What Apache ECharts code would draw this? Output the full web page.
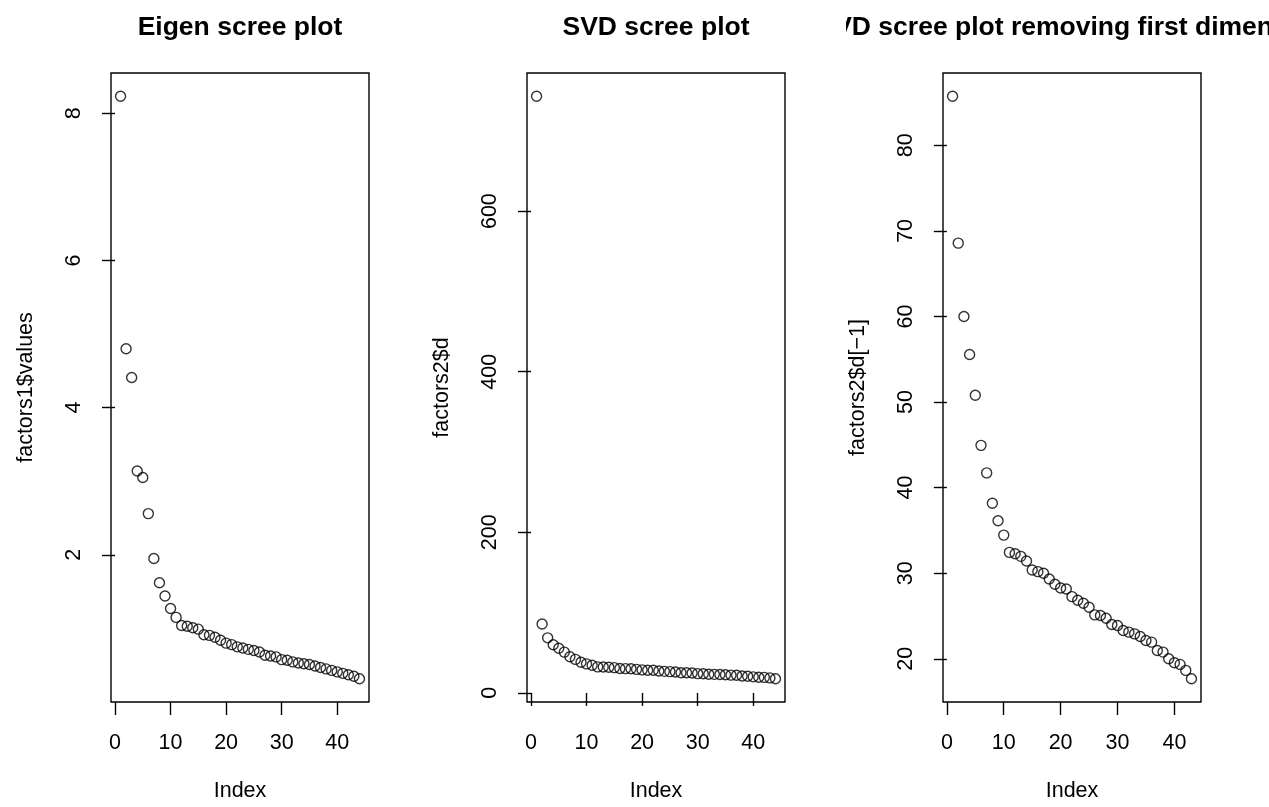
<!DOCTYPE html>
<html>
<head>
<meta charset="utf-8">
<script src="https://cdn.jsdelivr.net/npm/echarts@6/dist/echarts.min.js"></script>
<style>
  html, body { margin: 0; padding: 0; background: #fff; }
  #chart { width: 1269px; height: 807px; }
</style>
</head>
<body>
<div id="chart"></div>
<script>
// ---- data ----
const titles = ["Eigen scree plot", "SVD scree plot", "SVD scree plot removing first dimension"];
const yNames = ["factors1$values", "factors2$d", "factors2$d[\u22121]"];
const xName = "Index";

const eigenValues = [8.23, 4.80, 4.41, 3.14, 3.05, 2.56, 1.95, 1.62, 1.44, 1.27,
  1.15, 1.04, 1.03, 1.01, 0.99, 0.915, 0.906, 0.88, 0.84, 0.80,
  0.78, 0.75, 0.735, 0.716, 0.70, 0.68, 0.635, 0.626, 0.613, 0.576,
  0.567, 0.545, 0.53, 0.52, 0.51, 0.49, 0.47, 0.45, 0.43, 0.41,
  0.39, 0.37, 0.35, 0.317];

const svdRest = [85.73, 68.57, 60.0, 55.55, 50.8, 44.94, 41.72, 38.18, 36.12, 34.45,
  32.43, 32.28, 31.97, 31.42, 30.37, 30.18, 29.99, 29.32, 28.70, 28.27,
  28.16, 27.26, 26.84, 26.49, 26.02, 25.13, 25.05, 24.74, 24.00, 23.88,
  23.30, 23.11, 22.91, 22.60, 22.13, 21.94, 20.97, 20.78, 20.00, 19.53,
  19.34, 18.64, 17.67];
const svdFirst = 743;
const svdValues = [svdFirst].concat(svdRest);

const xTicks = [0, 10, 20, 30, 40];
const yTicks1 = [0, 2, 4, 6, 8];
const yTicks2 = [0, 200, 400, 600];
const yTicks3 = [20, 30, 40, 50, 60, 70, 80];

// ---- build ----
const FONT = "'Liberation Sans', Arial, Helvetica, sans-serif";
const LABEL_SIZE = 21.5, TITLE_SIZE = 26.5;
const panels = [
  { vals: eigenValues, yTicks: yTicks1, left: 111 },
  { vals: svdValues, yTicks: yTicks2, left: 527 },
  { vals: svdRest, yTicks: yTicks3, left: 943 }
];
const TOP = 73, W = 258, H = 630;

function padRange(lo, hi) {
  const r = hi - lo;
  return [lo - 0.04 * r, hi + 0.04 * r];
}

const grids = [], xAxes = [], yAxes = [], series = [], graphics = [];
panels.forEach((p, i) => {
  const n = p.vals.length;
  const data = p.vals.map((v, k) => [k + 1, v]);
  const xr = padRange(1, n);
  const yr = padRange(Math.min.apply(null, p.vals), Math.max.apply(null, p.vals));
  grids.push({ left: p.left, top: TOP, width: W, height: H, show: true,
    borderColor: '#000', borderWidth: 1.4, backgroundColor: 'transparent' });
  xAxes.push({
    type: 'value', gridIndex: i, min: xr[0], max: xr[1],
    axisLine: { show: false }, splitLine: { show: false },
    axisTick: { show: true, length: 13, customValues: xTicks, lineStyle: { color: '#000', width: 1.4 } },
    axisLabel: { customValues: xTicks, color: '#000', fontFamily: FONT, fontSize: LABEL_SIZE, margin: 30 },
    name: xName, nameLocation: 'middle', nameGap: 78,
    nameTextStyle: { color: '#000', fontFamily: FONT, fontSize: LABEL_SIZE }
  });
  yAxes.push({
    type: 'value', gridIndex: i, min: yr[0], max: yr[1],
    axisLine: { show: false }, splitLine: { show: false },
    axisTick: { show: true, length: 13, customValues: p.yTicks, lineStyle: { color: '#000', width: 1.4 } },
    axisLabel: { customValues: p.yTicks, rotate: 90, color: '#000', fontFamily: FONT, fontSize: LABEL_SIZE, margin: 26 },
    name: yNames[i], nameLocation: 'middle', nameGap: 74, nameRotate: 90,
    nameTextStyle: { color: '#000', fontFamily: FONT, fontSize: LABEL_SIZE }
  });
  series.push({
    type: 'scatter', xAxisIndex: i, yAxisIndex: i, data: data,
    symbol: 'circle', symbolSize: 10, clip: false,
    itemStyle: { color: 'rgba(0,0,0,0)', borderColor: '#000', borderWidth: 1.4 },
    emphasis: { disabled: true }, silent: true
  });
  graphics.push({
    type: 'text', x: p.left + W / 2, y: 28, z: 10,
    style: { text: titles[i], fill: '#000', font: 'bold ' + TITLE_SIZE + 'px ' + FONT,
      textAlign: 'center', textVerticalAlign: 'middle' }
  });
});
// figure-region clipping of the third title (R clips at its panel edge)
graphics.push({ type: 'rect', x: 790, y: 0, z: 20, shape: { width: 56, height: 60 }, style: { fill: '#fff' } });

const chart = echarts.init(document.getElementById('chart'), null, { renderer: 'canvas' });
chart.setOption({
  animation: false,
  backgroundColor: '#fff',
  grid: grids, xAxis: xAxes, yAxis: yAxes, series: series,
  graphic: graphics
});
</script>
</body>
</html>
